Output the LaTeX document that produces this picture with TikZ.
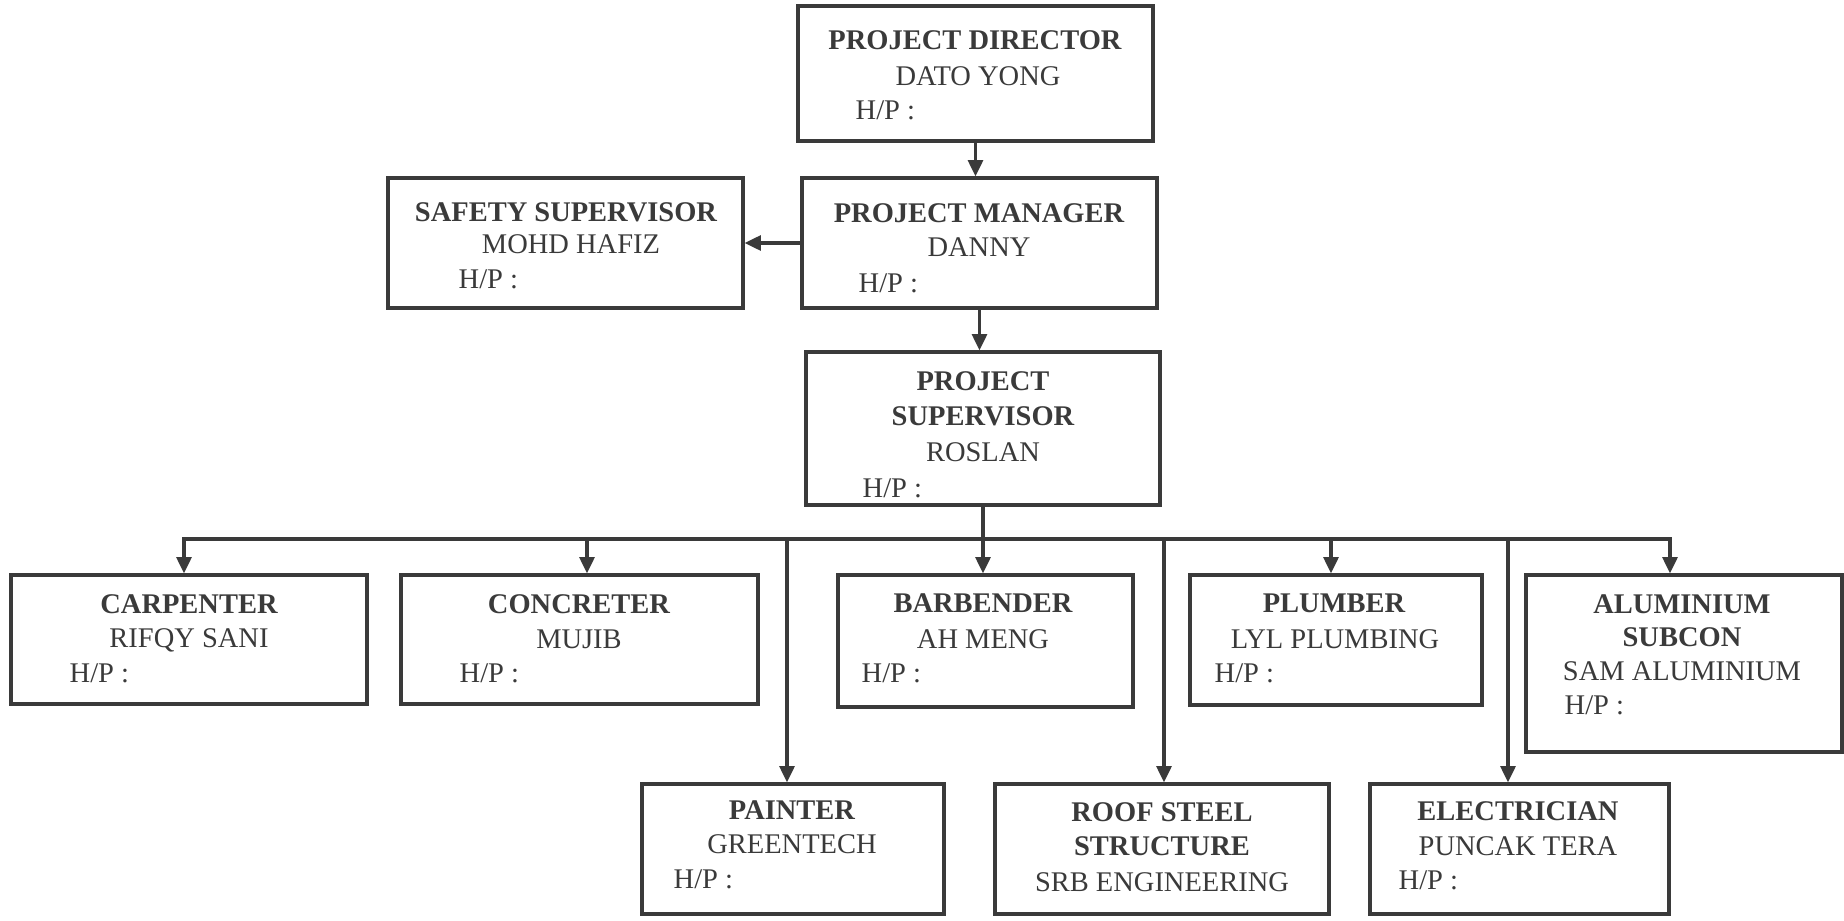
\documentclass[tikz,border=0pt]{standalone}
\usepackage{fontspec}
\setmainfont{Liberation Serif}
\usetikzlibrary{arrows.meta,fit}
\definecolor{ink}{HTML}{3A3A3A}
\begin{document}
\begin{tikzpicture}[x=0.01cm,y=-0.01cm,
  box/.style={draw=ink, line width=0.9pt, inner sep=0pt, rectangle},
  ttl/.style={anchor=base, font=\fontsize{8.1}{10}\selectfont\bfseries, text=ink, inner sep=0pt},
  nm/.style={anchor=base, font=\fontsize{8.1}{10}\selectfont, text=ink, inner sep=0pt},
  hp/.style={anchor=base west, font=\fontsize{8.1}{10}\selectfont, text=ink, inner sep=0pt},
  ln/.style={draw=ink, line width=0.9pt},
  arr/.style={ln, -{Triangle[length=4.6pt,width=4.2pt]}},
  arr2/.style={ln, {Triangle[length=4.6pt,width=4.2pt]}-{Triangle[length=4.6pt,width=4.2pt]}}]
\useasboundingbox (0,0) rectangle (1844,921);

% ---- upper boxes
\node[box, fit={(798,6) (1153,141)}] (dir) {};
\node[ttl] (dirT) at (975,50) {PROJECT DIRECTOR};
\node[nm]  (dirN) at (978,85) {DATO YONG};
\node[hp]  (dirH) at (855,120) {H/P :};

\node[box, fit={(802,178) (1157,308)}] (mgr) {};
\node[ttl] (mgrT) at (979,222) {PROJECT MANAGER};
\node[nm]  (mgrN) at (979,256) {DANNY};
\node[hp]  (mgrH) at (858,292) {H/P :};

\node[box, fit={(388,178) (743,308)}] (saf) {};
\node[ttl] (safT) at (566,221) {SAFETY SUPERVISOR};
\node[nm]  (safN) at (571,253) {MOHD HAFIZ};
\node[hp]  (safH) at (458,288) {H/P :};

\node[box, fit={(806,352) (1160,505)}] (sup) {};
\node[ttl] (supT1) at (983,390) {PROJECT};
\node[ttl] (supT2) at (983,425) {SUPERVISOR};
\node[nm]  (supN)  at (983,461) {ROSLAN};
\node[hp]  (supH)  at (862,497) {H/P :};

% ---- first row
\node[box, fit={(11,575) (367,704)}] (car) {};
\node[ttl] (carT) at (189,613) {CARPENTER};
\node[nm]  (carN) at (189,647) {RIFQY SANI};
\node[hp]  (carH) at (69,682) {H/P :};

\node[box, fit={(401,575) (758,704)}] (con) {};
\node[ttl] (conT) at (579,613) {CONCRETER};
\node[nm]  (conN) at (579,648) {MUJIB};
\node[hp]  (conH) at (459,682) {H/P :};

\node[box, fit={(838,575) (1133,707)}] (bar) {};
\node[ttl] (barT) at (983,612) {BARBENDER};
\node[nm]  (barN) at (983,648) {AH MENG};
\node[hp]  (barH) at (861,682) {H/P :};

\node[box, fit={(1190,575) (1482,705)}] (plu) {};
\node[ttl] (pluT) at (1334,612) {PLUMBER};
\node[nm]  (pluN) at (1335,648) {LYL PLUMBING};
\node[hp]  (pluH) at (1214,682) {H/P :};

\node[box, fit={(1526,575) (1842,752)}] (alu) {};
\node[ttl] (aluT1) at (1682,613) {ALUMINIUM};
\node[ttl] (aluT2) at (1682,646) {SUBCON};
\node[nm]  (aluN)  at (1682,680) {SAM ALUMINIUM};
\node[hp]  (aluH)  at (1564,714) {H/P :};

% ---- second row
\node[box, fit={(642,784) (944,914)}] (pai) {};
\node[ttl] (paiT) at (792,819) {PAINTER};
\node[nm]  (paiN) at (792,853) {GREENTECH};
\node[hp]  (paiH) at (673,888) {H/P :};

\node[box, fit={(995,784) (1329,914)}] (roo) {};
\node[ttl] (rooT1) at (1162,821) {ROOF STEEL};
\node[ttl] (rooT2) at (1162,855) {STRUCTURE};
\node[nm]  (rooN)  at (1162,891) {SRB ENGINEERING};

\node[box, fit={(1370,784) (1669,914)}] (ele) {};
\node[ttl] (eleT) at (1518,820) {ELECTRICIAN};
\node[nm]  (eleN) at (1518,855) {PUNCAK TERA};
\node[hp]  (eleH) at (1398,889) {H/P :};

% ---- connectors
\draw[arr] (dir.south) -- (dir.south |- mgr.north);
\draw[arr] (mgr.south) -- (mgr.south |- sup.north);
\draw[arr] (mgr.west) -- (saf.east);
\draw[arr] (sup.south) -- (sup.south |- bar.north);

\coordinate (bL) at (184,539);
\coordinate (bR) at (1670,539);
\coordinate (bCon) at (587,539);
\coordinate (bPlu) at (1331,539);
\coordinate (bPai) at (787,539);
\coordinate (bRoo) at (1164,539);
\coordinate (bEle) at (1508,539);

\draw[arr2] (bL |- car.north) -- (bL) -- (bR) -- (bR |- alu.north);
\draw[arr] (bCon) -- (bCon |- con.north);
\draw[arr] (bPlu) -- (bPlu |- plu.north);
\draw[arr] (bPai) -- (bPai |- pai.north);
\draw[arr] (bRoo) -- (bRoo |- roo.north);
\draw[arr] (bEle) -- (bEle |- ele.north);
\end{tikzpicture}
\end{document}
